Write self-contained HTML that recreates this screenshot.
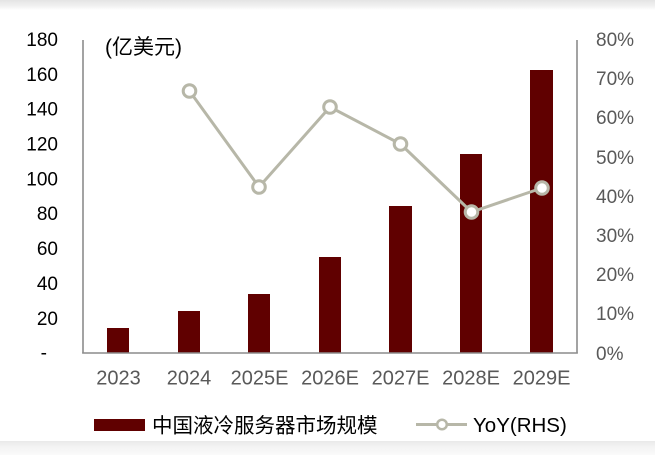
<!DOCTYPE html>
<html><head><meta charset="utf-8"><style>
html,body{margin:0;padding:0;background:#fff;}
#c{position:relative;width:655px;height:455px;overflow:hidden;background:#fff;}
.top{position:absolute;left:0;top:0;width:655px;height:10px;background:linear-gradient(#e4e4e4,#f4f4f4 70%,#fff);}
.bot{position:absolute;left:0;top:441px;width:655px;height:14px;background:linear-gradient(#e9e9e9,#f3f3f3 40%,#fafafa);}
svg{position:absolute;left:0;top:0;}
text{font-family:"Liberation Sans","Noto Sans CJK SC",sans-serif;}
</style></head><body><div id="c">
<div class="top"></div><div class="bot"></div>
<svg width="655" height="455" viewBox="0 0 655 455">
<g font-size="19" fill="#000" text-anchor="end">
<text x="58" y="46">180</text>
<text x="58" y="81">160</text>
<text x="58" y="115.5">140</text>
<text x="58" y="150.5">120</text>
<text x="58" y="185.5">100</text>
<text x="58" y="220">80</text>
<text x="58" y="255">60</text>
<text x="58" y="290">40</text>
<text x="58" y="325">20</text>
<text x="47" y="359">-</text>
</g>
<g font-size="19" fill="#595959">
<text x="596" y="46">80%</text>
<text x="596" y="85">70%</text>
<text x="596" y="124">60%</text>
<text x="596" y="164">50%</text>
<text x="596" y="203">40%</text>
<text x="596" y="242">30%</text>
<text x="596" y="281">20%</text>
<text x="596" y="320">10%</text>
<text x="596" y="360">0%</text>
</g>
<text x="105" y="54" font-size="21" fill="#000">(亿美元)</text>
<g fill="#600000">
<rect x="107" y="328" width="22" height="25"/>
<rect x="178" y="311" width="22" height="42"/>
<rect x="248" y="294" width="22" height="59"/>
<rect x="319" y="257" width="22" height="96"/>
<rect x="389" y="206" width="23" height="147"/>
<rect x="460" y="154" width="22" height="199"/>
<rect x="530" y="70" width="23" height="283"/>
</g>
<g stroke="#8c8c8c" stroke-width="1.6" fill="none">
<line x1="83" y1="40" x2="83" y2="353.5"/>
<line x1="577" y1="40" x2="577" y2="353.5"/>
<line x1="82.2" y1="353" x2="577.8" y2="353"/>
</g>
<polyline points="189.5,91 259,187 330,107 400.5,144 471.5,212 542,188" fill="none" stroke="#b7b7a8" stroke-width="3"/>
<g fill="#fff" stroke="#b7b7a8" stroke-width="3">
<circle cx="189.5" cy="91" r="6.3"/>
<circle cx="259" cy="187" r="6.3"/>
<circle cx="330" cy="107" r="6.3"/>
<circle cx="400.5" cy="144" r="6.3"/>
<circle cx="471.5" cy="212" r="6.3"/>
<circle cx="542" cy="188" r="6.3"/>
</g>
<g font-size="20" fill="#595959" text-anchor="middle">
<text x="118.5" y="384.5">2023</text>
<text x="189" y="384.5">2024</text>
<text x="259.5" y="384.5">2025E</text>
<text x="330" y="384.5">2026E</text>
<text x="400.5" y="384.5">2027E</text>
<text x="471" y="384.5">2028E</text>
<text x="541.5" y="384.5">2029E</text>
</g>
<rect x="94" y="419" width="51" height="12" fill="#600000"/>
<text x="152" y="432.5" font-size="20.5" fill="#000">中国液冷服务器市场规模</text>
<line x1="416" y1="424.5" x2="467" y2="424.5" stroke="#b7b7a8" stroke-width="3"/>
<circle cx="442" cy="424.5" r="4.8" fill="#fff" stroke="#b7b7a8" stroke-width="2.5"/>
<text x="473" y="432" font-size="20.5" fill="#000">YoY(RHS)</text>
</svg>
</div></body></html>
